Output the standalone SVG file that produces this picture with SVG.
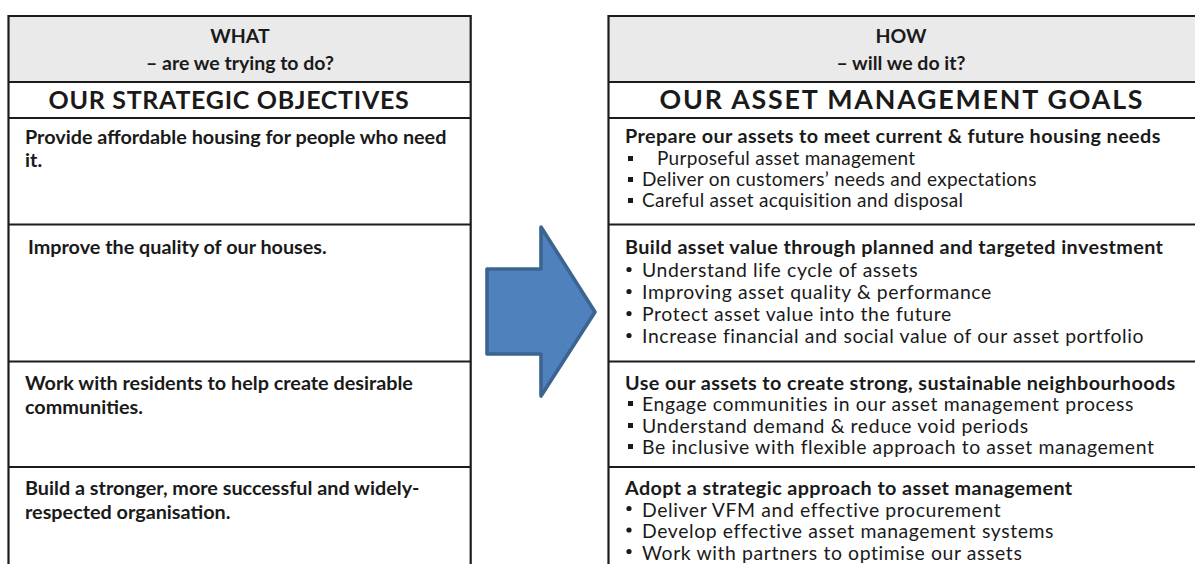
<svg xmlns="http://www.w3.org/2000/svg" width="1195" height="564" viewBox="0 0 1195 564">
<style>
.grid{stroke:#1c1c1c;stroke-width:2.2;fill:none}
.hdr{fill:#eaeaea}
.t{font-family:Lato,"Liberation Sans",sans-serif;fill:#1a1a1a}
.h{font-weight:700;font-size:19.5px;text-anchor:middle}
.lb{font-weight:700;font-size:19.8px}
.rb{font-weight:700;font-size:19.8px;letter-spacing:0.4px}
.rr{font-weight:400;font-size:19.4px;letter-spacing:0.6px}
.r1{font-weight:400;font-size:19px;letter-spacing:0.3px}
.sq{fill:#1a1a1a}
</style>
<rect width="1195" height="564" fill="#ffffff"/>
<g id="left-table">
<rect class="hdr" x="8.5" y="16" width="462" height="66"/>
<line class="grid" x1="8.5" y1="16" x2="470.7" y2="16"/>
<line class="grid" x1="8.5" y1="15" x2="8.5" y2="570"/>
<line class="grid" x1="470.7" y1="15" x2="470.7" y2="570"/>
<line class="grid" x1="8.5" y1="82" x2="470.7" y2="82"/>
<line class="grid" x1="8.5" y1="118" x2="470.7" y2="118"/>
<line class="grid" x1="8.5" y1="224.5" x2="470.7" y2="224.5"/>
<line class="grid" x1="8.5" y1="361.5" x2="470.7" y2="361.5"/>
<line class="grid" x1="8.5" y1="467" x2="470.7" y2="467"/>
<text class="t h" x="240" y="43">WHAT</text>
<text class="t h" x="240" y="70">– are we trying to do?</text>
<text class="t" x="229" y="108.5" font-weight="700" font-size="25px" letter-spacing="0.7" text-anchor="middle">OUR STRATEGIC OBJECTIVES</text>
</g>
<g id="obj1"><text class="t lb" x="25" y="143.5">Provide affordable housing for people who need</text><text class="t lb" x="25" y="167">it.</text></g>
<g id="obj2"><text class="t lb" x="28" y="254">Improve the quality of our houses.</text></g>
<g id="obj3"><text class="t lb" x="25" y="390">Work with residents to help create desirable</text><text class="t lb" x="25" y="413.5">communities.</text></g>
<g id="obj4"><text class="t lb" x="25" y="495">Build a stronger, more successful and widely-</text><text class="t lb" x="25" y="518.5">respected organisation.</text></g>
<g id="connectors">
<polygon points="487,269 541,269 541,227 595,312 541,396 541,354 487,354" fill="#4f81bd" stroke="#3b6590" stroke-width="3.6" stroke-linejoin="round"/>
</g>
<g id="right-table">
<rect class="hdr" x="608.5" y="16" width="590" height="66"/>
<line class="grid" x1="608.5" y1="16" x2="1200" y2="16"/>
<line class="grid" x1="608.5" y1="15" x2="608.5" y2="570"/>
<line class="grid" x1="608.5" y1="82" x2="1200" y2="82"/>
<line class="grid" x1="608.5" y1="118" x2="1200" y2="118"/>
<line class="grid" x1="608.5" y1="224.5" x2="1200" y2="224.5"/>
<line class="grid" x1="608.5" y1="361.5" x2="1200" y2="361.5"/>
<line class="grid" x1="608.5" y1="467" x2="1200" y2="467"/>
<text class="t h" x="901" y="43">HOW</text>
<text class="t h" x="901" y="70">– will we do it?</text>
<text class="t" x="902" y="108.5" font-weight="700" font-size="26.8px" letter-spacing="1.8" text-anchor="middle">OUR ASSET MANAGEMENT GOALS</text>
</g>
<g id="goal1">
<text class="t rb" x="625" y="142.5">Prepare our assets to meet current &amp; future housing needs</text>
<rect class="sq" x="628" y="156" width="5" height="5"/><text class="t r1" x="657" y="164.5">Purposeful asset management</text>
<rect class="sq" x="628" y="177" width="5" height="5"/><text class="t r1" x="642" y="185.5">Deliver on customers’ needs and expectations</text>
<rect class="sq" x="628" y="198" width="5" height="5"/><text class="t r1" x="642" y="206.5">Careful asset acquisition and disposal</text>
</g>
<g id="goal2">
<text class="t rb" x="625" y="254">Build asset value through planned and targeted investment</text>
<circle class="sq" cx="629" cy="269.5" r="2.6"/><text class="t rr" x="642" y="277">Understand life cycle of assets</text>
<circle class="sq" cx="629" cy="291.5" r="2.6"/><text class="t rr" x="642" y="299">Improving asset quality &amp; performance</text>
<circle class="sq" cx="629" cy="313.5" r="2.6"/><text class="t rr" x="642" y="321">Protect asset value into the future</text>
<circle class="sq" cx="629" cy="335.5" r="2.6"/><text class="t rr" x="642" y="343">Increase financial and social value of our asset portfolio</text>
</g>
<g id="goal3">
<text class="t rb" x="625" y="390">Use our assets to create strong, sustainable neighbourhoods</text>
<rect class="sq" x="628" y="401" width="5" height="5"/><text class="t rr" x="642" y="411">Engage communities in our asset management process</text>
<rect class="sq" x="628" y="423" width="5" height="5"/><text class="t rr" x="642" y="433">Understand demand &amp; reduce void periods</text>
<rect class="sq" x="628" y="444" width="5" height="5"/><text class="t rr" x="642" y="454">Be inclusive with flexible approach to asset management</text>
</g>
<g id="goal4">
<text class="t rb" x="625" y="495">Adopt a strategic approach to asset management</text>
<circle class="sq" cx="629" cy="508.5" r="2.6"/><text class="t rr" x="642" y="517">Deliver VFM and effective procurement</text>
<circle class="sq" cx="629" cy="530" r="2.6"/><text class="t rr" x="642" y="538">Develop effective asset management systems</text>
<circle class="sq" cx="629" cy="551.5" r="2.6"/><text class="t rr" x="642" y="559.5">Work with partners to optimise our assets</text>
</g>
</svg>
